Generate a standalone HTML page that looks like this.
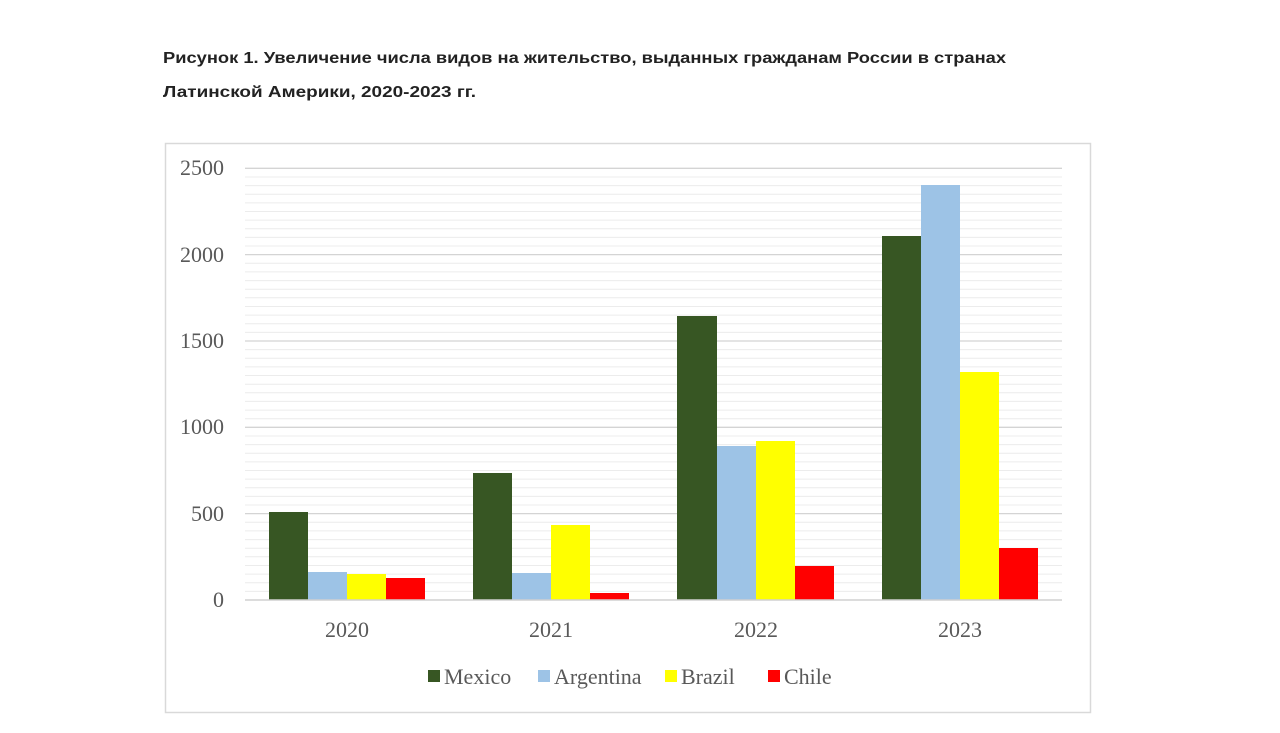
<!DOCTYPE html>
<html><head><meta charset="utf-8"><style>
html,body{margin:0;padding:0;background:#fff;}
svg{display:block;}
</style></head><body>
<svg width="1280" height="733" xmlns="http://www.w3.org/2000/svg">
<rect width="1280" height="733" fill="#fff"/>
<text x="163" y="63" font-family="Liberation Sans, sans-serif" font-weight="bold" font-size="16" fill="#222" textLength="843" lengthAdjust="spacingAndGlyphs">Рисунок 1. Увеличение числа видов на жительство, выданных гражданам России в странах</text>
<text x="163" y="97" font-family="Liberation Sans, sans-serif" font-weight="bold" font-size="16" fill="#222" textLength="313" lengthAdjust="spacingAndGlyphs">Латинской Америки, 2020-2023 гг.</text>
<rect x="165.5" y="143.5" width="925" height="569" fill="#fff" stroke="#d9d9d9" stroke-width="1.5"/>
<g stroke="#ececec" stroke-width="1">
<line x1="245" x2="1062" y1="591.4" y2="591.4"/><line x1="245" x2="1062" y1="582.7" y2="582.7"/><line x1="245" x2="1062" y1="574.1" y2="574.1"/><line x1="245" x2="1062" y1="565.5" y2="565.5"/><line x1="245" x2="1062" y1="556.8" y2="556.8"/><line x1="245" x2="1062" y1="548.2" y2="548.2"/><line x1="245" x2="1062" y1="539.6" y2="539.6"/><line x1="245" x2="1062" y1="530.9" y2="530.9"/><line x1="245" x2="1062" y1="522.3" y2="522.3"/>
<line x1="245" x2="1062" y1="505" y2="505"/><line x1="245" x2="1062" y1="496.4" y2="496.4"/><line x1="245" x2="1062" y1="487.8" y2="487.8"/><line x1="245" x2="1062" y1="479.1" y2="479.1"/><line x1="245" x2="1062" y1="470.5" y2="470.5"/><line x1="245" x2="1062" y1="461.9" y2="461.9"/><line x1="245" x2="1062" y1="453.2" y2="453.2"/><line x1="245" x2="1062" y1="444.6" y2="444.6"/><line x1="245" x2="1062" y1="436" y2="436"/>
<line x1="245" x2="1062" y1="418.7" y2="418.7"/><line x1="245" x2="1062" y1="410.1" y2="410.1"/><line x1="245" x2="1062" y1="401.4" y2="401.4"/><line x1="245" x2="1062" y1="392.8" y2="392.8"/><line x1="245" x2="1062" y1="384.2" y2="384.2"/><line x1="245" x2="1062" y1="375.5" y2="375.5"/><line x1="245" x2="1062" y1="366.9" y2="366.9"/><line x1="245" x2="1062" y1="358.3" y2="358.3"/><line x1="245" x2="1062" y1="349.6" y2="349.6"/>
<line x1="245" x2="1062" y1="332.4" y2="332.4"/><line x1="245" x2="1062" y1="323.7" y2="323.7"/><line x1="245" x2="1062" y1="315.1" y2="315.1"/><line x1="245" x2="1062" y1="306.5" y2="306.5"/><line x1="245" x2="1062" y1="297.8" y2="297.8"/><line x1="245" x2="1062" y1="289.2" y2="289.2"/><line x1="245" x2="1062" y1="280.6" y2="280.6"/><line x1="245" x2="1062" y1="271.9" y2="271.9"/><line x1="245" x2="1062" y1="263.3" y2="263.3"/>
<line x1="245" x2="1062" y1="246" y2="246"/><line x1="245" x2="1062" y1="237.4" y2="237.4"/><line x1="245" x2="1062" y1="228.8" y2="228.8"/><line x1="245" x2="1062" y1="220.1" y2="220.1"/><line x1="245" x2="1062" y1="211.5" y2="211.5"/><line x1="245" x2="1062" y1="202.9" y2="202.9"/><line x1="245" x2="1062" y1="194.2" y2="194.2"/><line x1="245" x2="1062" y1="185.6" y2="185.6"/><line x1="245" x2="1062" y1="177" y2="177"/>
</g>
<g stroke="#d4d4d4" stroke-width="1.3">
<line x1="245" x2="1062" y1="513.6" y2="513.6"/><line x1="245" x2="1062" y1="427.3" y2="427.3"/><line x1="245" x2="1062" y1="341" y2="341"/><line x1="245" x2="1062" y1="254.6" y2="254.6"/><line x1="245" x2="1062" y1="168.3" y2="168.3"/>
</g>
<g>
<rect x="269" y="512" width="39" height="88" fill="#375623"/>
<rect x="308" y="572" width="39" height="28" fill="#9DC3E6"/>
<rect x="347" y="574" width="39" height="26" fill="#FFFF00"/>
<rect x="386" y="578" width="39" height="22" fill="#FF0000"/>
<rect x="473" y="473" width="39" height="127" fill="#375623"/>
<rect x="512" y="573" width="39" height="27" fill="#9DC3E6"/>
<rect x="551" y="525" width="39" height="75" fill="#FFFF00"/>
<rect x="590" y="593" width="39" height="7" fill="#FF0000"/>
<rect x="677" y="316" width="40" height="284" fill="#375623"/>
<rect x="717" y="446" width="39" height="154" fill="#9DC3E6"/>
<rect x="756" y="441" width="39" height="159" fill="#FFFF00"/>
<rect x="795" y="566" width="39" height="34" fill="#FF0000"/>
<rect x="882" y="236" width="39" height="364" fill="#375623"/>
<rect x="921" y="185" width="39" height="415" fill="#9DC3E6"/>
<rect x="960" y="372" width="39" height="228" fill="#FFFF00"/>
<rect x="999" y="548" width="39" height="52" fill="#FF0000"/>
</g>
<line x1="245" x2="1062" y1="600" y2="600" stroke="#d0d0d0" stroke-width="1.5"/>
<g font-family="Liberation Serif, serif" font-size="22" fill="#595959" text-anchor="end">
<text x="224" y="607">0</text><text x="224" y="521">500</text><text x="224" y="434">1000</text><text x="224" y="348">1500</text><text x="224" y="262">2000</text><text x="224" y="175">2500</text>
</g>
<g font-family="Liberation Serif, serif" font-size="22" fill="#595959" text-anchor="middle">
<text x="347" y="637">2020</text><text x="551" y="637">2021</text><text x="756" y="637">2022</text><text x="960" y="637">2023</text>
</g>
<g font-family="Liberation Serif, serif" font-size="22" fill="#595959">
<rect x="428" y="670" width="12" height="12" fill="#375623"/><text x="444" y="684">Mexico</text>
<rect x="538" y="670" width="12" height="12" fill="#9DC3E6"/><text x="554" y="684">Argentina</text>
<rect x="665" y="670" width="12" height="12" fill="#FFFF00"/><text x="681" y="684">Brazil</text>
<rect x="768" y="670" width="12" height="12" fill="#FF0000"/><text x="784" y="684">Chile</text>
</g>
</svg>
</body></html>
